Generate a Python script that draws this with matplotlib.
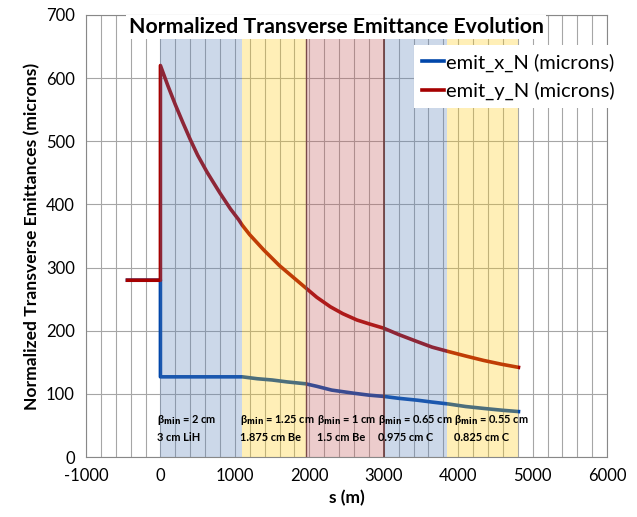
import matplotlib.pyplot as plt

plt.rcParams['font.family'] = ['Lato', 'DejaVu Sans']
plt.rcParams['axes.unicode_minus'] = False

# curves
s_x = [-443, 0, 0, 1100, 1300, 1500, 1700, 1950, 2100, 2300, 2600, 2800, 3000,
       3200, 3450, 3650, 3870, 4100, 4340, 4600, 4810]
emit_x = [280, 280, 127, 127, 124, 122, 119, 116, 112, 106, 101, 98, 96,
          93, 90, 87, 84, 80, 77, 74, 72]

s_y = [-443, 0, 0, 100, 200, 300, 400, 500, 627, 700, 800, 940, 1050, 1100,
       1200, 1387, 1600, 1800, 1950, 2100, 2282, 2450, 2640, 2800, 3000,
       3200, 3445, 3650, 3870, 4100, 4340, 4580, 4810]
emit_y = [280, 280, 620, 588, 558, 530, 503, 478, 451, 437, 418, 393, 376, 367,
          352, 328, 303, 283, 268, 253, 238, 227, 217, 211, 204,
          194, 183, 174, 167, 160, 153, 147, 142]

# absorber sections
sec_start = [0, 1100, 1950, 3000, 3850]
sec_end = [1100, 1950, 3000, 3850, 4800]
sec_color = ['#5880b9', '#ffcd12', '#c35858', '#5880b9', '#ffcd12']
beta_min = ['2 cm', '1.25 cm', '1 cm', '0.65 cm', '0.55 cm']
absorber = ['3 cm LiH', '1.875 cm Be', '1.5 cm Be', '0.975 cm C', '0.825 cm C']
label_x = [-40, 1070, 2100, 2920, 3950]

fig = plt.figure(figsize=(6.37, 5.17), dpi=100)
ax = fig.add_axes([0.135, 0.116, 0.818, 0.855])

ax.set_xlim(-1000, 6000)
ax.set_ylim(0, 700)
ax.set_xticks(range(-1000, 6001, 1000))
ax.set_xticks(range(-1000, 6001, 200), minor=True)
ax.set_yticks(range(0, 701, 100))
ax.grid(True, which='both', axis='x', color='#a6a6a6', lw=0.8, zorder=0)
ax.grid(True, which='major', axis='y', color='#a6a6a6', lw=0.8, zorder=0)
ax.tick_params(which='both', length=0, labelsize=12, pad=8)
for sp in ax.spines.values():
    sp.set_color('#888888')

ax.plot(s_x, emit_x, color='#0046aa', lw=2.6, zorder=2, label='emit_x_N (microns)')
ax.plot(s_y, emit_y, color='#a50000', lw=2.6, zorder=2.1, label='emit_y_N (microns)')

for a, b, c in zip(sec_start, sec_end, sec_color):
    ax.axvspan(a, b, color=c, alpha=0.3, lw=0, zorder=3)
ax.axvline(1950, color='#7a4a4a', lw=1, zorder=3.1)
ax.axvline(3000, color='#6a3a3a', lw=1.2, zorder=3.1)

for x, bm, ab in zip(label_x, beta_min, absorber):
    ax.text(x, 58, 'β$_{\\mathbf{min}}$ = ' + bm, fontsize=7.9, fontweight='bold',
            va='center', zorder=4)
    ax.text(x, 31, ab, fontsize=7.9, fontweight='bold', va='center', zorder=4)

ax.text(0.48, 0.972, 'Normalized Transverse Emittance Evolution', transform=ax.transAxes,
        ha='center', va='center', fontsize=15.3, fontweight='bold', zorder=6,
        bbox=dict(facecolor='white', edgecolor='none', pad=1.5))

leg = ax.legend(loc='upper left', bbox_to_anchor=(0.634, 0.932), bbox_transform=fig.transFigure,
                frameon=True, fancybox=False, edgecolor='none', framealpha=1,
                fontsize=14.5, handlelength=1.1, handletextpad=0.1, labelspacing=0.5,
                borderpad=0.4)
leg.set_zorder(6)

ax.set_xlabel('s (m)', fontsize=12.5, fontweight='bold')
ax.set_ylabel('Normalized Transverse Emittances (microns)', fontsize=12.6, fontweight='bold')

fig.savefig('out.png', dpi=100)
